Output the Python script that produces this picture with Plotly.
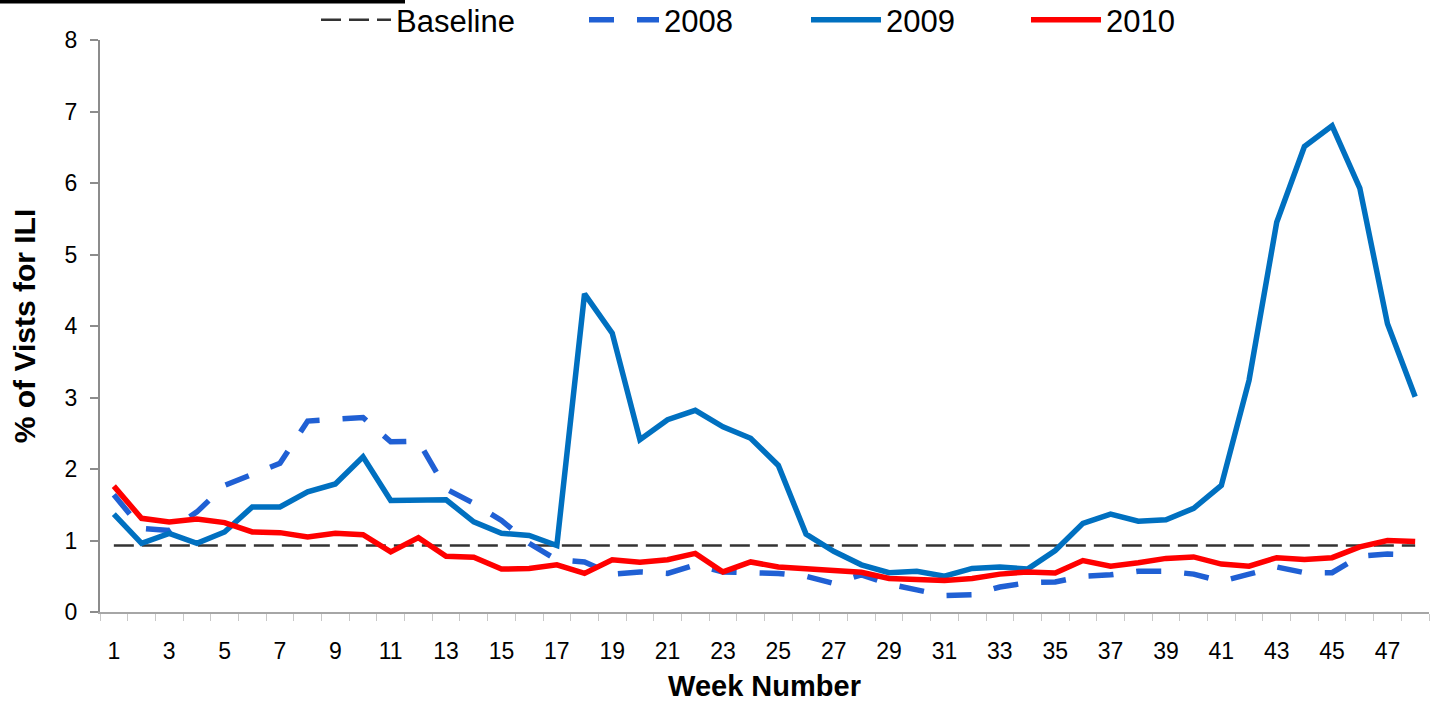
import plotly.graph_objects as go

weeks = list(range(1, 49))

baseline_value = 0.93
baseline = [baseline_value] * len(weeks)

y2008 = [1.64, 1.17, 1.14, 1.40, 1.77, 1.92, 2.08, 2.67, 2.69, 2.72,
         2.38, 2.39, 1.72, 1.52, 1.28, 0.96, 0.73, 0.70, 0.53, 0.56,
         0.54, 0.66, 0.56, 0.55, 0.54, 0.50, 0.40, 0.52, 0.39, 0.31,
         0.23, 0.24, 0.35, 0.41, 0.42, 0.50, 0.52, 0.57, 0.57, 0.53,
         0.43, 0.53, 0.63, 0.55, 0.55, 0.78, 0.81, 0.80]

y2009 = [1.37, 0.96, 1.10, 0.96, 1.12, 1.47, 1.47, 1.68, 1.79, 2.17,
         1.56, 1.57, 1.57, 1.26, 1.10, 1.07, 0.93, 4.45, 3.90, 2.41,
         2.69, 2.82, 2.59, 2.43, 2.05, 1.09, 0.85, 0.66, 0.55, 0.57,
         0.50, 0.61, 0.63, 0.60, 0.86, 1.24, 1.37, 1.27, 1.29, 1.45,
         1.77, 3.24, 5.45, 6.51, 6.80, 5.93, 4.03, 3.01]

y2010 = [1.76, 1.31, 1.26, 1.30, 1.25, 1.12, 1.11, 1.05, 1.10, 1.08,
         0.84, 1.04, 0.78, 0.765, 0.60, 0.61, 0.66, 0.54, 0.73, 0.695,
         0.73, 0.82, 0.56, 0.70, 0.63, 0.61, 0.59, 0.555, 0.47, 0.46,
         0.44, 0.47, 0.53, 0.56, 0.545, 0.72, 0.64, 0.69, 0.75, 0.77,
         0.67, 0.64, 0.76, 0.735, 0.76, 0.91, 1.00, 0.986]

x_tick_labels = [str(w) for w in weeks if w % 2 == 1]
x_tick_vals = [w for w in weeks if w % 2 == 1]
y_ticks = list(range(0, 9))

FONT = "Liberation Sans, Arial, sans-serif"

fig = go.Figure()
fig.add_trace(go.Scatter(x=weeks, y=baseline, mode="lines", name="Baseline",
                         line=dict(color="#333333", width=2.5, dash="20px,8px"),
                         legend="legend"))
fig.add_trace(go.Scatter(x=weeks, y=y2008, mode="lines", name="2008",
                         line=dict(color="#2060D4", width=5.5, dash="25px,23px"),
                         legend="legend2"))
fig.add_trace(go.Scatter(x=weeks, y=y2009, mode="lines", name="2009",
                         line=dict(color="#0070C0", width=5.5),
                         legend="legend3"))
fig.add_trace(go.Scatter(x=weeks, y=y2010, mode="lines", name="2010",
                         line=dict(color="#FF0000", width=5.5),
                         legend="legend4"))

L, R, T, B = 100, 10, 40, 90
W, H = 1439, 702
pw = W - L - R
ph = H - T - B

def px_x(p):
    return (p - L) / pw

def px_y(p):
    return (H - B - p) / ph

leg_common = dict(orientation="h", xanchor="left", yanchor="middle",
                  xref="container", yref="container",
                  y=1 - 20 / H, font=dict(family=FONT, size=31, color="black"),
                  bgcolor="rgba(0,0,0,0)", itemwidth=70)

fig.update_layout(
    width=W, height=H,
    margin=dict(l=L, r=R, t=T, b=B, autoexpand=False),
    paper_bgcolor="white", plot_bgcolor="white",
    font=dict(family=FONT, color="black"),
    showlegend=True,
    legend=dict(x=316 / W, **leg_common),
    legend2=dict(x=584 / W, **leg_common),
    legend3=dict(x=806 / W, **leg_common),
    legend4=dict(x=1026 / W, **leg_common),
    xaxis=dict(
        range=[0.5, 48.5], tickmode="array", tickvals=x_tick_vals,
        ticktext=x_tick_labels, ticks="", showgrid=False, zeroline=False,
        showline=True, linecolor="#A6A6A6", linewidth=1.5,
        tickfont=dict(family=FONT, size=23, color="black"),
        ticklabelstandoff=18, automargin=False,
        minor=dict(tickmode="linear", tick0=0.5, dtick=1, ticks="outside",
                   ticklen=7, tickcolor="#C8C8C8", tickwidth=1.2, showgrid=False),
        title=dict(text="<b>Week Number</b>", font=dict(family=FONT, size=29, color="black"),
                   standoff=14),
        fixedrange=True,
    ),
    yaxis=dict(
        range=[0, 8], tickmode="array", tickvals=y_ticks,
        ticktext=[str(v) for v in y_ticks],
        ticks="outside", ticklen=8, tickcolor="#8C8C8C", tickwidth=1.5,
        showgrid=False, zeroline=False, showline=True,
        linecolor="#8C8C8C", linewidth=2,
        tickfont=dict(family=FONT, size=23, color="black"),
        ticklabelstandoff=8, automargin=False,
        title=dict(text="<b>% of Vists for ILI</b>", font=dict(family=FONT, size=30, color="black"),
                   standoff=20),
        fixedrange=True,
    ),
    shapes=[dict(type="rect", xref="paper", yref="paper",
                 x0=px_x(0), x1=px_x(405), y0=px_y(3.5), y1=px_y(0),
                 fillcolor="black", line=dict(width=0), layer="above")],
)

fig.write_html("out.html",
               config={"displayModeBar": False},
               post_script="document.body.style.margin='0';document.body.style.overflow='hidden';")
